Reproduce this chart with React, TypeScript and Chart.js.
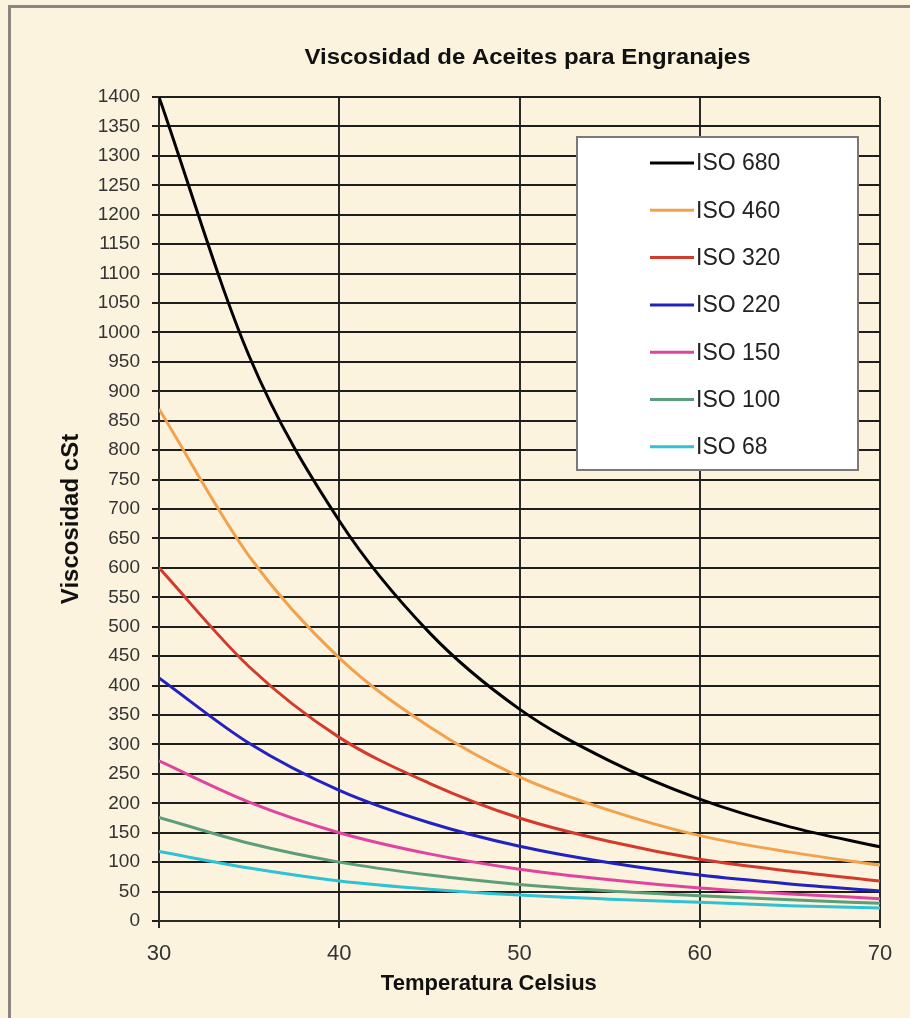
import React, { useEffect, useRef } from "react";
import { Chart, registerables } from "chart.js";

Chart.register(...registerables);

// ---- Data ----
const temperatures = [30, 35, 40, 45, 50, 55, 60, 65, 70];

const seriesLabels = ["ISO 680", "ISO 460", "ISO 320", "ISO 220", "ISO 150", "ISO 100", "ISO 68"];

const iso680 = [1400, 960, 680, 490, 360, 272, 207, 160, 126];
const iso460 = [870, 620, 447, 330, 245, 188, 145, 117, 95];
const iso320 = [600, 432, 312, 234, 175, 135, 105, 85, 68];
const iso220 = [413, 302, 222, 167, 127, 99, 78, 63, 51];
const iso150 = [272, 202, 150, 114, 88, 70, 56, 46, 38];
const iso100 = [176, 132, 100, 78, 62, 51, 43, 36, 30];
const iso68 = [118, 90, 68, 54, 44, 37, 32, 26, 22];

const seriesValues = [iso680, iso460, iso320, iso220, iso150, iso100, iso68];

const seriesColors = ["#000000", "#F2A24C", "#D43A2C", "#2222BE", "#E0449E", "#5C9E78", "#2EC2D2"];

const chartTitle = "Viscosidad de Aceites para Engranajes";
const xAxisTitle = "Temperatura Celsius";
const yAxisTitle = "Viscosidad cSt";

const xMin = 30;
const xMax = 70;
const xStep = 10;
const yMin = 0;
const yMax = 1400;
const yStep = 50;

const FONT = '"Liberation Sans", Arial, Helvetica, sans-serif';

const textPlugin = {
  id: "customTexts",
  afterDraw(chart: any) {
    const { ctx, chartArea, scales } = chart;
    ctx.save();
    ctx.fillStyle = "#111111";
    ctx.textAlign = "center";
    ctx.textBaseline = "middle";
    // main title (slightly widened, as in the reference)
    ctx.save();
    ctx.translate((chartArea.left + chartArea.right) / 2 + 8, chartArea.top - 39);
    ctx.scale(1.09, 1);
    ctx.font = `bold 22px ${FONT}`;
    ctx.fillText(chartTitle, 0, 0);
    ctx.restore();
    // x axis title
    ctx.font = `bold 22px ${FONT}`;
    ctx.fillText(xAxisTitle, scales.x.getPixelForValue(48.3), chartArea.bottom + 63);
    // y axis title
    ctx.translate(71, (chartArea.top + chartArea.bottom) / 2 + 10);
    ctx.rotate(-Math.PI / 2);
    ctx.font = `bold 24px ${FONT}`;
    ctx.fillText(yAxisTitle, 0, 0);
    ctx.restore();
  },
};

const legendPlugin = {
  id: "insideLegend",
  afterDatasetsDraw(chart: any) {
    const { ctx, chartArea } = chart;
    const boxLeft = chartArea.right - 303;
    const boxTop = chartArea.top + 40;
    const boxW = 281;
    const boxH = 333;
    ctx.save();
    ctx.fillStyle = "#FFFFFF";
    ctx.fillRect(boxLeft, boxTop, boxW, boxH);
    ctx.strokeStyle = "#7d7873";
    ctx.lineWidth = 2;
    ctx.strokeRect(boxLeft, boxTop, boxW, boxH);
    ctx.font = `23px ${FONT}`;
    ctx.textAlign = "left";
    ctx.textBaseline = "middle";
    chart.data.datasets.forEach((ds: any, i: number) => {
      const y = boxTop + 26 + i * 47.3;
      ctx.strokeStyle = ds.borderColor;
      ctx.lineWidth = 3;
      ctx.beginPath();
      ctx.moveTo(boxLeft + 73, y);
      ctx.lineTo(boxLeft + 117, y);
      ctx.stroke();
      ctx.fillStyle = "#222222";
      ctx.fillText(ds.label, boxLeft + 119, y + 1);
    });
    ctx.restore();
  },
};

export default function App() {
  const canvasRef = useRef<HTMLCanvasElement | null>(null);

  useEffect(() => {
    if (!canvasRef.current) return;
    const datasets = seriesLabels.map((label, i) => ({
      label,
      data: temperatures.map((t, j) => ({ x: t, y: seriesValues[i][j] })),
      borderColor: seriesColors[i],
      backgroundColor: seriesColors[i],
      borderWidth: 3,
      pointRadius: 0,
      cubicInterpolationMode: "monotone" as const,
      fill: false,
    }));

    const chart = new Chart(canvasRef.current, {
      type: "line",
      data: { datasets },
      options: {
        responsive: false,
        animation: false,
        layout: { padding: { left: 0, right: 30, top: 97, bottom: 0 } },
        plugins: {
          legend: { display: false },
          title: { display: false },
          tooltip: { enabled: false },
        },
        scales: {
          x: {
            type: "linear",
            min: xMin,
            max: xMax,
            ticks: {
              stepSize: xStep,
              color: "#333333",
              font: { family: FONT, size: 22 },
              padding: 13,
              callback: (v: any) => String(v),
            },
            grid: { color: "#2a2a2a", lineWidth: 2, tickLength: 7, drawTicks: true },
            border: { display: true, color: "#2a2a2a", width: 2 },
            afterFit: (scale: any) => {
              scale.height = 97;
            },
          },
          y: {
            type: "linear",
            min: yMin,
            max: yMax,
            ticks: {
              stepSize: yStep,
              autoSkip: false,
              color: "#333333",
              font: { family: FONT, size: 19 },
              padding: 12,
              callback: (v: any) => String(v),
            },
            grid: { color: "#1e1e1e", lineWidth: 2, tickLength: 7, drawTicks: true },
            border: { display: true, color: "#2a2a2a", width: 2 },
            afterFit: (scale: any) => {
              scale.width = 159;
            },
          },
        },
      },
      plugins: [legendPlugin, textPlugin],
    });
    return () => chart.destroy();
  }, []);

  return (
    <div
      style={{
        position: "fixed",
        left: 0,
        top: 0,
        width: 910,
        height: 1018,
        background: "#FCF3DF",
        overflow: "hidden",
      }}
    >
      <div
        style={{
          position: "absolute",
          left: 8,
          top: 5,
          right: 0,
          bottom: 0,
          borderTop: "3px solid #8b8580",
          borderLeft: "3px solid #8b8580",
        }}
      />
      <canvas
        ref={canvasRef}
        width={910}
        height={1018}
        style={{ position: "absolute", left: 0, top: 0, display: "block" }}
      />
    </div>
  );
}
